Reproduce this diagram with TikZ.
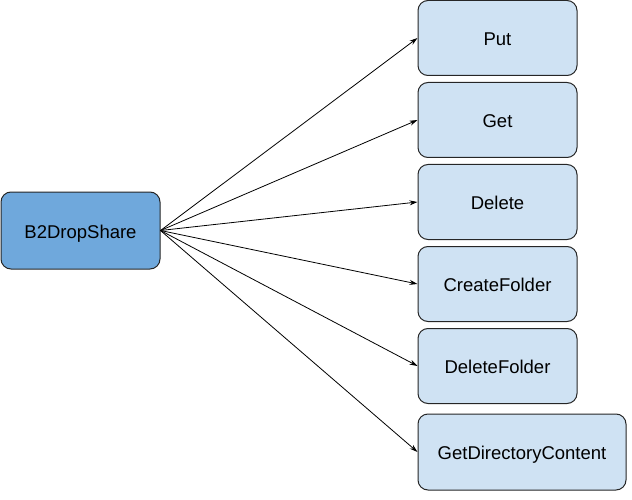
\documentclass[tikz,border=0pt]{standalone}
\usepackage{fontspec}
\setmainfont{Liberation Sans}
\usetikzlibrary{arrows.meta}
\definecolor{darkfill}{HTML}{6FA8DC}
\definecolor{lightfill}{HTML}{CFE2F3}
\begin{document}
\begin{tikzpicture}[x=1pt,y=-1pt,
  box/.style={draw=black!85,line width=1pt,rounded corners=10pt,minimum height=75pt,inner sep=0pt,text height=15pt,text depth=0pt,font=\fontsize{18.5}{22}\selectfont},
  srcbox/.style={box,fill=darkfill,minimum width=159pt,minimum height=77pt},
  tgtbox/.style={box,fill=lightfill,minimum width=159pt},
  conn/.style={-{Stealth[length=8pt,width=5pt]},line width=0.8pt,black}]
\useasboundingbox (0,0) rectangle (632,500);
\node[srcbox] (src) at (80.5,230.5) {B2DropShare};
\node[tgtbox] (put) at (497.5,38) {Put};
\node[tgtbox] (get) at (497.5,120) {Get};
\node[tgtbox] (del) at (497.5,202) {Delete};
\node[tgtbox] (cf) at (497.5,284) {CreateFolder};
\node[tgtbox] (df) at (497.5,366) {DeleteFolder};
\node[tgtbox,minimum width=208pt,minimum height=76pt] (gdc) at (522,452) {GetDirectoryContent};
\foreach \t in {put,get,del,cf,df,gdc}
  \draw[conn] (src.east) -- (\t.west);
\end{tikzpicture}
\end{document}
